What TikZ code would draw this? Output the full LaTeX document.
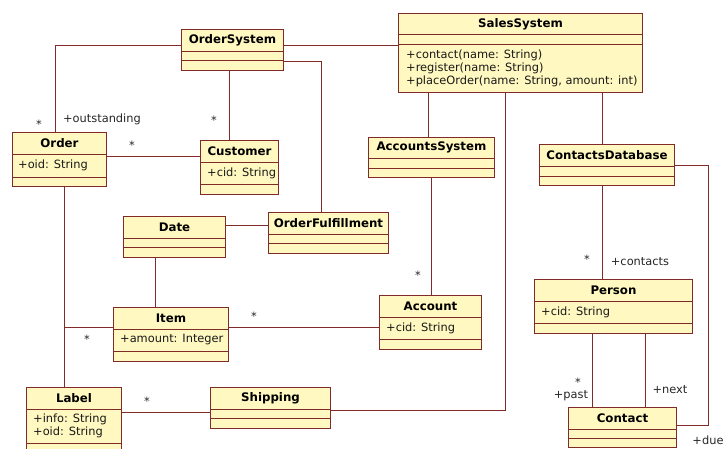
\documentclass[tikz,border=0pt]{standalone}
\usepackage{fontspec}
\newfontfamily\umlfont{DejaVu Sans}
\usepackage{tikz}
\usetikzlibrary{positioning,calc}

\definecolor{umlfill}{RGB}{255,248,192}
\definecolor{umlred}{RGB}{128,42,42}

\begin{document}
\begin{tikzpicture}[x=1pt, y=-1pt,
    umlclass/.style={draw=umlred, fill=umlfill, line width=1pt, anchor=north west, inner sep=0pt},
    classtitle/.style={font=\umlfont\fontsize{11.8}{13}\selectfont\bfseries, text=black, inner sep=0pt},
    member/.style={font=\umlfont\fontsize{11.4}{13}\selectfont, text=black!90, anchor=west, align=left, inner sep=0pt},
    classsep/.style={draw=umlred, line width=1pt},
    assoc/.style={draw=umlred, line width=1pt},
    mult/.style={font=\umlfont\fontsize{11.4}{13}\selectfont, text=black!85, inner sep=0pt}]
    \useasboundingbox (0,0) rectangle (726,448);
    \clip (0,0) rectangle (726,448);

    % Classes
    \node[umlclass, minimum width=244, minimum height=79] (sales) at (398,13) {};
    \node[classtitle] (sales-name) at ([yshift=-11pt]sales.north) {SalesSystem};
    \draw[classsep] ([yshift=-21pt]sales.north west) -- ([yshift=-21pt]sales.north east)
        ([yshift=-31pt]sales.north west) -- ([yshift=-31pt]sales.north east);
    \node[member] (sales-ops) at ([xshift=8pt,yshift=-55pt]sales.north west)
        {+contact(name: String)\\+register(name: String)\\+placeOrder(name: String, amount: int)};

    \node[umlclass, minimum width=102, minimum height=41] (ordsys) at (181,29) {};
    \node[classtitle] (ordsys-name) at ([yshift=-11pt]ordsys.north) {OrderSystem};
    \draw[classsep] ([yshift=-22pt]ordsys.north west) -- ([yshift=-22pt]ordsys.north east)
        ([yshift=-31pt]ordsys.north west) -- ([yshift=-31pt]ordsys.north east);

    \node[umlclass, minimum width=94, minimum height=54] (order) at (12,132) {};
    \node[classtitle] (order-name) at ([yshift=-11pt]order.north) {Order};
    \draw[classsep] ([yshift=-22pt]order.north west) -- ([yshift=-22pt]order.north east)
        ([yshift=-45pt]order.north west) -- ([yshift=-45pt]order.north east);
    \node[member] (order-attr) at ([xshift=6pt,yshift=-33.5pt]order.north west) {+oid: String};

    \node[umlclass, minimum width=78, minimum height=54] (customer) at (200,140) {};
    \node[classtitle] (customer-name) at ([yshift=-11pt]customer.north) {Customer};
    \draw[classsep] ([yshift=-22pt]customer.north west) -- ([yshift=-22pt]customer.north east)
        ([yshift=-44pt]customer.north west) -- ([yshift=-44pt]customer.north east);
    \node[member] (customer-attr) at ([xshift=7pt,yshift=-33pt]customer.north west) {+cid: String};

    \node[umlclass, minimum width=126, minimum height=40] (acsys) at (368,137) {};
    \node[classtitle] (acsys-name) at ([yshift=-10.5pt]acsys.north) {AccountsSystem};
    \draw[classsep] ([yshift=-21pt]acsys.north west) -- ([yshift=-21pt]acsys.north east)
        ([yshift=-31pt]acsys.north west) -- ([yshift=-31pt]acsys.north east);

    \node[umlclass, minimum width=135, minimum height=41] (cdb) at (539,144) {};
    \node[classtitle] (cdb-name) at ([yshift=-11pt]cdb.north) {ContactsDatabase};
    \draw[classsep] ([yshift=-22pt]cdb.north west) -- ([yshift=-22pt]cdb.north east)
        ([yshift=-32pt]cdb.north west) -- ([yshift=-32pt]cdb.north east);

    \node[umlclass, minimum width=102, minimum height=41] (date) at (123,216) {};
    \node[classtitle] (date-name) at ([yshift=-11pt]date.north) {Date};
    \draw[classsep] ([yshift=-22pt]date.north west) -- ([yshift=-22pt]date.north east)
        ([yshift=-31pt]date.north west) -- ([yshift=-31pt]date.north east);

    \node[umlclass, minimum width=120, minimum height=41] (ordfull) at (268,212) {};
    \node[classtitle] (ordfull-name) at ([yshift=-11pt]ordfull.north) {OrderFulfillment};
    \draw[classsep] ([yshift=-22pt]ordfull.north west) -- ([yshift=-22pt]ordfull.north east)
        ([yshift=-31pt]ordfull.north west) -- ([yshift=-31pt]ordfull.north east);

    \node[umlclass, minimum width=115, minimum height=54] (item) at (113,307) {};
    \node[classtitle] (item-name) at ([yshift=-11pt]item.north) {Item};
    \draw[classsep] ([yshift=-22pt]item.north west) -- ([yshift=-22pt]item.north east)
        ([yshift=-44pt]item.north west) -- ([yshift=-44pt]item.north east);
    \node[member] (item-attr) at ([xshift=7pt,yshift=-33pt]item.north west) {+amount: Integer};

    \node[umlclass, minimum width=102, minimum height=54] (account) at (379,295) {};
    \node[classtitle] (account-name) at ([yshift=-11pt]account.north) {Account};
    \draw[classsep] ([yshift=-22pt]account.north west) -- ([yshift=-22pt]account.north east)
        ([yshift=-44pt]account.north west) -- ([yshift=-44pt]account.north east);
    \node[member] (account-attr) at ([xshift=7pt,yshift=-33pt]account.north west) {+cid: String};

    \node[umlclass, minimum width=158, minimum height=54] (person) at (534,279) {};
    \node[classtitle] (person-name) at ([yshift=-11pt]person.north) {Person};
    \draw[classsep] ([yshift=-22pt]person.north west) -- ([yshift=-22pt]person.north east)
        ([yshift=-44pt]person.north west) -- ([yshift=-44pt]person.north east);
    \node[member] (person-attr) at ([xshift=7pt,yshift=-33pt]person.north west) {+cid: String};

    \node[umlclass, minimum width=95, minimum height=68] (label) at (26,387) {};
    \node[classtitle] (label-name) at ([yshift=-11pt]label.north) {Label};
    \draw[classsep] ([yshift=-22pt]label.north west) -- ([yshift=-22pt]label.north east)
        ([yshift=-56pt]label.north west) -- ([yshift=-56pt]label.north east);
    \node[member] (label-attr) at ([xshift=7pt,yshift=-39pt]label.north west) {+info: String\\+oid: String};

    \node[umlclass, minimum width=120, minimum height=41] (shipping) at (210,387) {};
    \node[classtitle] (shipping-name) at ([yshift=-11pt]shipping.north) {Shipping};
    \draw[classsep] ([yshift=-22pt]shipping.north west) -- ([yshift=-22pt]shipping.north east)
        ([yshift=-31pt]shipping.north west) -- ([yshift=-31pt]shipping.north east);

    \node[umlclass, minimum width=108, minimum height=40] (contact) at (568,407) {};
    \node[classtitle] (contact-name) at ([yshift=-11pt]contact.north) {Contact};
    \draw[classsep] ([yshift=-22pt]contact.north west) -- ([yshift=-22pt]contact.north east)
        ([yshift=-31pt]contact.north west) -- ([yshift=-31pt]contact.north east);

    % Associations
    \coordinate (ordleg) at ([xshift=5pt]order.south);
    \coordinate (itemleft) at ([yshift=7pt]item.west);
    \coordinate (salesleg) at ([xshift=-15pt]sales.south);
    \coordinate (duebend) at (708,0);

    \draw[assoc] ([yshift=4.5pt]ordsys.west) -| ([xshift=-4pt]order.north);
    \draw[assoc] ([yshift=4.5pt]ordsys.east) -- ([yshift=4.5pt]ordsys.east -| sales.west);
    \draw[assoc] ([xshift=-3pt]ordsys.south) -- ([xshift=-3pt]ordsys.south |- customer.north);
    \draw[assoc] ([yshift=-11.5pt]ordsys.east) -| ([xshift=-7pt]ordfull.north);
    \draw[assoc] ([yshift=3pt]order.east) -- ([yshift=3pt]order.east -| customer.west);
    \draw[assoc] (ordleg) -- (ordleg |- label.north);
    \draw[assoc] (itemleft) -- (itemleft -| ordleg);
    \draw[assoc] ([yshift=11.5pt]date.east) -- ([yshift=11.5pt]date.east -| ordfull.west);
    \draw[assoc] ([xshift=-19pt]date.south) -- ([xshift=-19pt]date.south |- item.north);
    \draw[assoc] ([yshift=7pt]item.east) -- ([yshift=7pt]item.east -| account.west);
    \draw[assoc] ([xshift=-3pt]acsys.north) -- ([xshift=-3pt]acsys.north |- sales.south);
    \draw[assoc] (acsys.south) -- (acsys.south |- account.north);
    \draw[assoc] (salesleg) |- ([yshift=-2.5pt]shipping.east);
    \draw[assoc] ([yshift=-25pt]label.north east) -- ([yshift=-25pt]label.north east -| shipping.west);
    \draw[assoc] ([xshift=-4.5pt]cdb.north) -- ([xshift=-4.5pt]cdb.north |- sales.south);
    \draw[assoc] ([xshift=-4.5pt]cdb.south) -- ([xshift=-4.5pt]cdb.south |- person.north);
    \draw[assoc] (cdb.east) -- (cdb.east -| duebend) |- ([yshift=2pt]contact.east);
    \draw[assoc] ([xshift=-21pt]person.south) -- ([xshift=-21pt]person.south |- contact.north);
    \draw[assoc] ([xshift=32pt]person.south) -- ([xshift=32pt]person.south |- contact.north);

    % Multiplicities and roles
    \node[mult] (m-outst) at (39,124) {*};
    \node[mult] (r-outst) at (102,119) {+outstanding};
    \node[mult] (m-cust) at (214,120) {*};
    \node[mult] (m-ordcust) at (132,145) {*};
    \node[mult] (m-item) at (87,339) {*};
    \node[mult] (m-itemacc) at (254,316) {*};
    \node[mult] (m-acc) at (418,275) {*};
    \node[mult] (m-ship) at (147,401) {*};
    \node[mult] (m-person) at (587,259) {*};
    \node[mult] (r-contacts) at (640,262) {+contacts};
    \node[mult] (m-past) at (578,382) {*};
    \node[mult] (r-past) at (571,396) {+past};
    \node[mult] (r-next) at (670,390) {+next};
    \node[mult] (r-due) at (708,440) {+due};
\end{tikzpicture}
\end{document}
